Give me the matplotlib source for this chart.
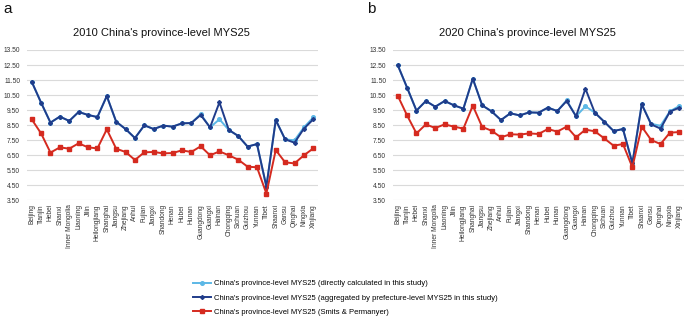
import matplotlib
matplotlib.use("Agg")
import matplotlib.pyplot as plt
import numpy as np

provinces = ["Beijing", "Tianjin", "Hebei", "Shanxi", "Inner Mongolia", "Liaoning", "Jilin",
             "Heilongjiang", "Shanghai", "Jiangsu", "Zhejiang", "Anhui", "Fujian", "Jiangxi",
             "Shandong", "Henan", "Hubei", "Hunan", "Guangdong", "Guangxi", "Hainan",
             "Chongqing", "Sichuan", "Guizhou", "Yunnan", "Tibet", "Shaanxi", "Gansu",
             "Qinghai", "Ningxia", "Xinjiang"]

# 2010
direct_2010 = [11.39, 9.99, 8.66, 9.06, 8.77, 9.37, 9.17, 9.03, 10.43, 8.72, 8.23, 7.63, 8.48,
               8.23, 8.46, 8.39, 8.61, 8.63, 9.23, 8.34, 8.88, 8.17, 7.77, 7.06, 7.23, 4.40,
               8.83, 7.54, 7.48, 8.34, 9.01]
aggregated_2010 = [11.39, 9.99, 8.66, 9.06, 8.77, 9.37, 9.17, 9.03, 10.43, 8.72, 8.23, 7.63, 8.48,
                   8.23, 8.46, 8.39, 8.61, 8.63, 9.17, 8.34, 10.01, 8.17, 7.77, 7.06, 7.23, 4.40,
                   8.83, 7.54, 7.32, 8.26, 8.88]
smits_2010 = [8.88, 7.94, 6.66, 7.01, 6.92, 7.28, 7.01, 6.94, 8.21, 6.92, 6.70, 6.17, 6.68,
              6.70, 6.61, 6.63, 6.81, 6.70, 7.08, 6.48, 6.74, 6.48, 6.19, 5.72, 5.68, 3.93,
              6.83, 6.01, 5.94, 6.48, 6.94]

# 2020
direct_2020 = [12.50, 10.99, 9.46, 10.10, 9.72, 10.10, 9.81, 9.59, 11.59, 9.81, 9.41, 8.83, 9.28,
               9.14, 9.34, 9.32, 9.66, 9.43, 10.15, 9.08, 9.75, 9.32, 8.72, 8.10, 8.23, 5.95,
               9.88, 8.58, 8.45, 9.41, 9.77]
aggregated_2020 = [12.50, 10.99, 9.46, 10.10, 9.72, 10.10, 9.81, 9.59, 11.59, 9.81, 9.41, 8.83, 9.28,
                   9.14, 9.34, 9.32, 9.66, 9.43, 10.10, 9.08, 10.92, 9.32, 8.72, 8.10, 8.23, 5.95,
                   9.88, 8.54, 8.26, 9.39, 9.66]
smits_2020 = [10.46, 9.14, 7.94, 8.54, 8.30, 8.54, 8.39, 8.26, 9.79, 8.37, 8.12, 7.68, 7.88,
              7.86, 7.94, 7.90, 8.23, 8.06, 8.39, 7.68, 8.19, 8.08, 7.61, 7.12, 7.23, 5.68,
              8.39, 7.50, 7.23, 7.99, 8.03]

titles = ["2010 China's province-level MYS25", "2020 China's province-level MYS25"]
panel_letters = ["a", "b"]
legend_labels = ["China's province-level MYS25 (directly calculated in this study)",
                 "China's province-level MYS25 (aggregated by prefecture-level MYS25 in this study)",
                 "China's province-level MYS25 (Smits & Permanyer)"]
yticks = [3.5, 4.5, 5.5, 6.5, 7.5, 8.5, 9.5, 10.5, 11.5, 12.5, 13.5]

plt.rcParams['font.family'] = ['Liberation Sans', 'DejaVu Sans']

W, H = 685, 319
fig = plt.figure(figsize=(W / 100, H / 100), dpi=100)

c_light = "#5CB8E6"
c_navy = "#203C8A"
c_red = "#D52A1F"

panels = [(27, 318, direct_2010, aggregated_2010, smits_2010, 161, 3),
          (393, 684, direct_2020, aggregated_2020, smits_2020, 527, 367)]

x = np.arange(len(provinces))
handles = None
for i, (x0, x1, d, a, s, tx, lx) in enumerate(panels):
    ax = fig.add_axes([x0 / W, 1 - 200 / H, (x1 - x0) / W, 150 / H])
    h1, = ax.plot(x, d, color=c_light, lw=1.4, marker='o', ms=2.6, zorder=2)
    h2, = ax.plot(x, a, color=c_navy, lw=1.4, marker='D', ms=2.0, zorder=3)
    h3, = ax.plot(x, s, color=c_red, lw=1.4, marker='s', ms=3.0, zorder=4)
    handles = [h1, h2, h3]
    ax.set_xlim(-0.5, len(provinces) - 0.5)
    ax.set_ylim(3.5, 13.5)
    ax.set_yticks(yticks)
    ax.set_yticklabels([f"{v:.2f}" for v in yticks])
    ax.set_xticks(x)
    ax.set_xticklabels(provinces, rotation=90)
    ax.tick_params(axis='both', length=0, labelsize=4.8, colors="#333333", pad=3)
    ax.tick_params(axis='y', pad=5)
    ax.grid(axis='y', color="#DADADA", lw=0.8)
    ax.set_axisbelow(True)
    for sp in ax.spines.values():
        sp.set_visible(False)
    ax.patch.set_alpha(0)
    fig.text(tx / W, 1 - 33 / H, titles[i], ha='center', va='center', fontsize=8, color="#111111")
    fig.text(lx / W, 1 - 2 / H, panel_letters[i], ha='left', va='top', fontsize=11, color="#111111")

fig.legend(handles, legend_labels, loc='upper left', bbox_to_anchor=(193 / W, 1 - 280 / H),
           frameon=False, fontsize=5.5, handlelength=2.4, handletextpad=0.3,
           labelspacing=0.9, borderpad=0, borderaxespad=0)

fig.savefig("out.png", dpi=100)
